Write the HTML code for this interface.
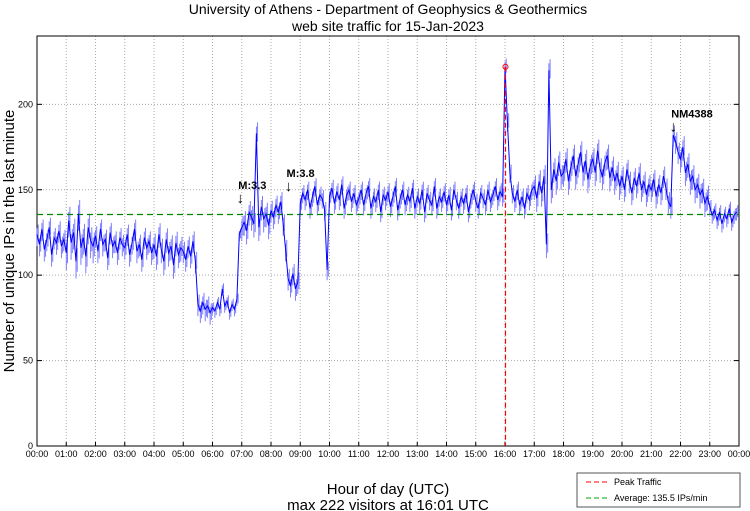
<!DOCTYPE html>
<html><head><meta charset="utf-8"><style>
body{margin:0;background:#fff;}
svg{display:block;font-family:"Liberation Sans",sans-serif;}
</style></head><body>
<svg id="chart" width="750" height="511">
<text x="388" y="14" text-anchor="middle" font-size="14">University of Athens - Department of Geophysics &amp; Geothermics</text>
<text x="388" y="31" text-anchor="middle" font-size="14">web site traffic for 15-Jan-2023</text>
<text transform="translate(14,241) rotate(-90)" text-anchor="middle" font-size="15">Number of unique IPs in the last minute</text>
<text x="388" y="494" text-anchor="middle" font-size="15">Hour of day (UTC)</text>
<text x="388" y="510" text-anchor="middle" font-size="15">max 222 visitors at 16:01 UTC</text>
<g id="grid"></g>
<g id="axes"></g>
<g id="series"></g>
<g id="annot"></g>
<g>
<rect x="577" y="473" width="163" height="34" fill="#fff" stroke="#555"/>
<line x1="586" y1="482" x2="610" y2="482" stroke="#f00" stroke-dasharray="5,3"/>
<text x="614" y="485" font-size="9">Peak Traffic</text>
<line x1="586" y1="498" x2="610" y2="498" stroke="#0a0" stroke-dasharray="5,3"/>
<text x="614" y="501" font-size="9">Average: 135.5 IPs/min</text>
</g>
</svg>
<script>
const hourLabels=["00:00","01:00","02:00","03:00","04:00","05:00","06:00","07:00","08:00","09:00","10:00","11:00","12:00","13:00","14:00","15:00","16:00","17:00","18:00","19:00","20:00","21:00","22:00","23:00","00:00"];
const yTicks=[0,50,100,150,200];
const average=135.5;
const peakMinute=961;
const peakValue=222;
const traffic=[
124,118,127,115,121,128,112,122,119,126,117,121,
113,132,119,125,108,136,116,122,111,128,120,117,
123,114,127,118,121,110,125,117,120,113,122,118,
116,124,112,119,127,114,118,109,122,116,120,113,
118,111,124,115,108,121,113,117,106,119,112,116,
114,109,117,111,120,108,83,79,84,80,82,78,
81,79,84,80,92,82,85,78,83,80,86,124,
128,131,126,137,134,130,183,128,140,133,136,129,
138,134,141,137,143,130,115,98,94,101,92,96,
142,148,144,150,139,146,152,141,147,145,138,103,
146,151,142,149,144,153,139,147,150,143,148,141,
145,150,141,148,152,139,146,143,150,137,147,144,
149,140,146,152,138,145,150,141,147,143,151,139,
146,142,150,137,148,144,141,152,139,146,143,149,
141,147,138,150,144,139,146,142,148,137,145,150,
143,139,148,145,141,150,143,147,152,144,149,146,
222,190,160,148,143,150,141,146,139,148,144,150,
152,145,155,148,158,118,220,150,162,155,166,158,
160,168,155,163,170,158,165,172,160,167,156,164,
168,160,173,162,158,166,170,157,163,155,160,152,
158,150,162,155,148,157,152,160,150,155,147,153,
150,156,146,153,148,158,151,143,140,182,178,172,
168,175,160,165,155,158,150,153,147,150,142,146,
140,135,138,132,137,130,136,133,139,131,135,137];
const stepMinutes=5;
const hourlySpread=[7,10,7,7,8,7,4,8,7,6,6,6,6,6,6,6,6,8,8,8,7,7,8,5];
const quakeLabels=["M:3.3","M:3.8","NM4388"];
const quakeMinutes=[417,516,1305];
const quakeValues=[141,148,183];

const NS="http://www.w3.org/2000/svg";
const L=37,R=739,T=36,B=446,YMAX=240;
const xs=m=>L+m/1440*(R-L);
const ys=v=>B-v/YMAX*(B-T);
function mk(tag,attrs,parent,text){const e=document.createElementNS(NS,tag);for(const k in attrs)e.setAttribute(k,attrs[k]);if(text!==undefined)e.textContent=text;parent.appendChild(e);return e;}
const grid=document.getElementById('grid'),axes=document.getElementById('axes'),ser=document.getElementById('series'),an=document.getElementById('annot');
hourLabels.forEach((h,i)=>{
  const x=xs(i*60);
  if(i>0&&i<24){const g=mk('line',{x1:x,y1:T,x2:x,y2:B,stroke:'#aaa','stroke-dasharray':'1,2'},grid);
  
  }
  const t=mk('text',{x:x,y:457,'font-size':'9','text-anchor':'middle'},axes,h);
  
  
  mk('line',{x1:x,y1:B,x2:x,y2:B-4,stroke:'#000'},axes);
});
yTicks.forEach(v=>{
  const y=ys(v);
  if(v>0){const g=mk('line',{x1:L,y1:y,x2:R,y2:y,stroke:'#aaa','stroke-dasharray':'1,2'},grid);
  
  }
  const t=mk('text',{x:L-4,y:y+3,'font-size':'9','text-anchor':'end'},axes,String(v));
  
  
  mk('line',{x1:L,y1:y,x2:L+5,y2:y,stroke:'#000'},axes);
  mk('line',{x1:R,y1:y,x2:R-5,y2:y,stroke:'#000'},axes);
});
const frame=mk('rect',{x:L,y:T,width:R-L,height:B-T,fill:'none',stroke:'#000'},axes);


let d='';
traffic.forEach((v,i)=>{
  const s=hourlySpread[Math.floor(i*stepMinutes/60)];
  const x=xs(i*stepMinutes);
  d+='M'+x.toFixed(1)+','+ys(v+s*0.5).toFixed(1)+'V'+ys(v-s).toFixed(1);
  const x2=xs(i*stepMinutes+2.5);
  d+='M'+x2.toFixed(1)+','+ys(v+s*0.8).toFixed(1)+'V'+ys(v-s*0.6).toFixed(1);
});
const band=mk('path',{d:d,stroke:'#7070ff','stroke-width':0.9,fill:'none'},ser);


const avg=mk('line',{x1:L,y1:ys(average),x2:R,y2:ys(average),stroke:'#080','stroke-width':1.2,'stroke-dasharray':'6,4'},ser);


const pts=traffic.map((v,i)=>xs(i*stepMinutes).toFixed(1)+','+ys(v).toFixed(1)).join(' ');
const line=mk('polyline',{points:pts,fill:'none',stroke:'#00f','stroke-width':1},ser);


const pk=mk('line',{x1:xs(peakMinute),y1:ys(peakValue),x2:xs(peakMinute),y2:B,stroke:'#f00','stroke-width':1.2,'stroke-dasharray':'5,3'},ser);


const pc=mk('circle',{cx:xs(peakMinute),cy:ys(peakValue),r:2.5,fill:'none',stroke:'#f00'},ser);


quakeLabels.forEach((lab,i)=>{
  const x=xs(quakeMinutes[i]),y=ys(quakeValues[i]);
  const a=mk('text',{x:x,y:y-2,'font-size':'15','text-anchor':'middle'},an,'↓');
  
  
  const t=mk('text',{x:x-2,y:y-16,'font-size':'11','font-weight':'bold'},an,lab);
  
  
});
</script>
</body></html>
